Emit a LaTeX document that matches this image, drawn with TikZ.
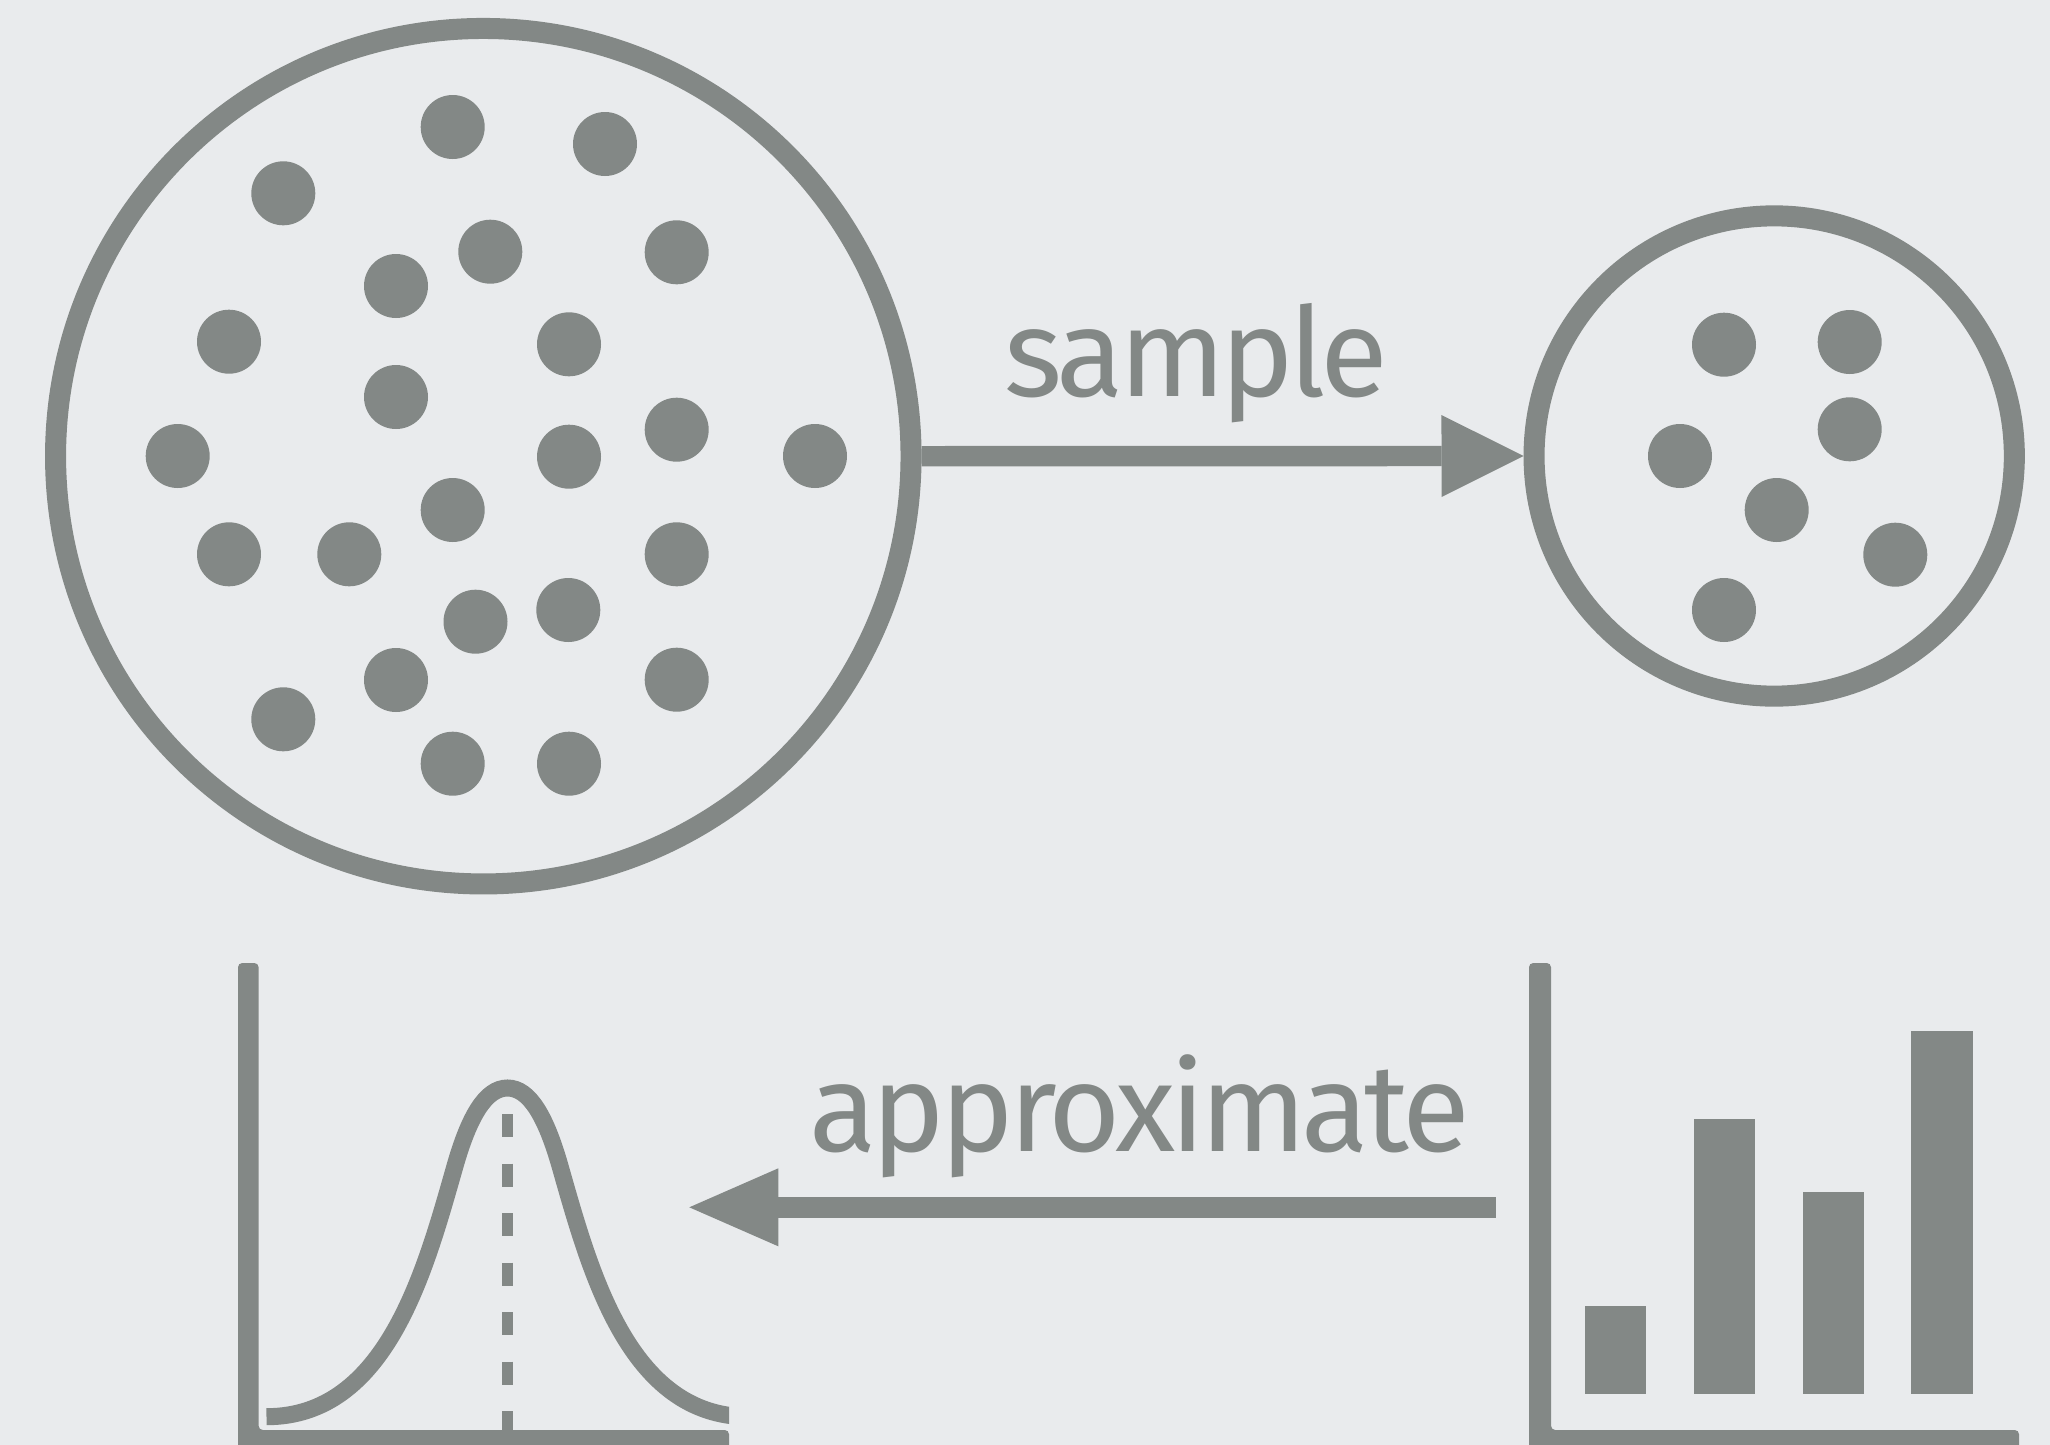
\documentclass[tikz,border=0pt]{standalone}
\usepackage{fontspec}
\setmainfont{Fira Sans}[LetterSpace=-4]
\usetikzlibrary{arrows.meta}
\definecolor{ink}{RGB}{131,136,134}
\definecolor{paper}{RGB}{233,235,237}
\begin{document}
\begin{tikzpicture}[x=0.01cm, y=-0.01cm,
  ring/.style={circle, draw=ink, line width=5.98pt, inner sep=0pt},
  word/.style={text=ink, font=\fontsize{35.3}{42}\selectfont, inner sep=0pt, anchor=base west},
  fatarrow/.style={draw=ink, line width=5.8pt,
    -{Triangle[length=#1, line width=0pt]}},
  bar/.style={fill=ink},
  axes/.style={fill=ink, rounded corners=1.2pt}
]
% canvas
\fill[paper] (0,0) rectangle (2050,1445);
\useasboundingbox (0,0) rectangle (2050,1445);

% population
\node[ring, minimum size=8.55cm] (pop) at (483.3,456.2) {};
\foreach \x/\y in {452.7/127, 605/144, 283.3/193.3, 490.3/251.7, 676.7/252.3,
  396/286, 229/341.7, 569/344.3, 396/397, 676.7/429.7, 177.7/456, 569/456.7,
  815/456, 452.7/510, 229/554.3, 349.3/554.3, 676.7/554.3, 568.3/610,
  475.5/621.7, 396/680, 676.7/679.7, 283.3/719.3, 452.7/763.7, 569/763.7}
  \fill[ink] (\x,\y) circle[radius=32];

% sample
\node[ring, minimum size=4.8cm] (smp) at (1774.2,456) {};
\foreach \x/\y in {1724/344.7, 1849.7/342, 1849.7/429.3, 1680/456,
  1776.7/510, 1895.3/554.7, 1724/610}
  \fill[ink] (\x,\y) circle[radius=32];

\draw[fatarrow={0.82cm, width=0.82cm}] (pop.east) -- (smp.west);
\node[word] (lsample) at (1004,396) {sample};

% histogram of the sample
\fill[axes] (1529,963) -- (1551,963) -- (1551,1430) -- (2019,1430)
  -- (2019,1455) -- (1529,1455) -- cycle;
\fill[bar] (1585,1306) rectangle (1646,1394.3);
\fill[bar] (1694,1119.3) rectangle (1755,1394.3);
\fill[bar] (1802.7,1192.3) rectangle (1863.7,1394.3);
\fill[bar] (1911.4,1030.7) rectangle (1972.8,1394.3);

% fitted density: bell curve, cut where the axis ends
\fill[axes] (238,963) -- (258.6,963) -- (258.6,1430) -- (729,1430)
  -- (729,1455) -- (238,1455) -- cycle;
\begin{scope}
  \clip (0,900) rectangle (729,1445);
  \draw[ink, line width=4.84pt, line cap=butt]
    (266.5,1416.7) .. controls (386.5,1416.7) and (425,1271) .. (455,1166)
    .. controls (469,1117) and (485.5,1088) .. (507.5,1088)
    .. controls (529.5,1088) and (546,1117) .. (560,1166)
    .. controls (590,1271) and (628.5,1416.7) .. (748.5,1416.7);
\end{scope}
\draw[ink, line width=3.41pt, dash pattern=on 6.54pt off 7.54pt]
  (507.5,1114) -- (507.5,1432);

% approximation arrow
\coordinate (apR) at (1495.7,1207.3);
\coordinate (apL) at (689.3,1207.3);
\draw[fatarrow={0.89cm, width=0.78cm}] (apR) -- (apL);
\node[word] (lapprox) at (808.5,1151.5) {approximate};
\end{tikzpicture}
\end{document}
